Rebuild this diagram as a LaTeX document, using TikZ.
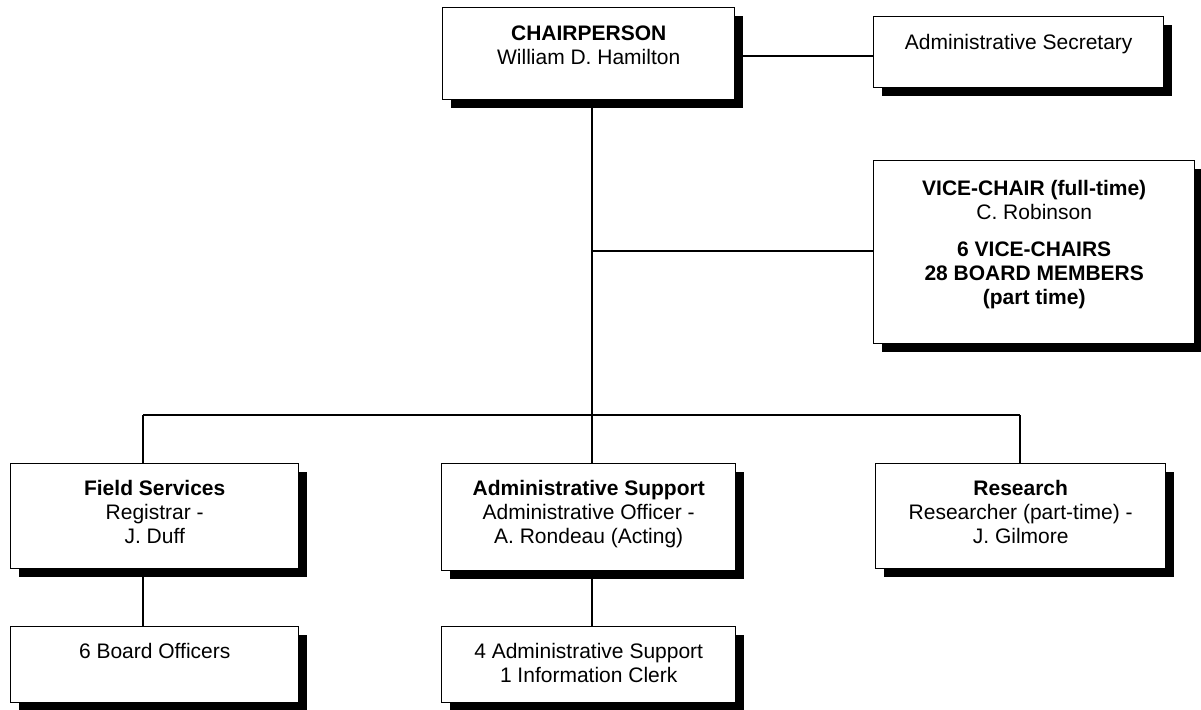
\documentclass[tikz,border=0pt]{standalone}
\usepackage{fontspec}
\setmainfont{Liberation Sans}
\usetikzlibrary{shadows}
\newcommand\orgfont{\fontsize{21}{24.15}\selectfont}
\newcommand\orgtext[4]{\parbox[c][#2][t]{#1}{\orgfont\centering\vspace*{#3}\strut #4}}
\tikzset{
  orgbox/.style={draw=black, line width=1.4pt, fill=white, inner sep=0pt, anchor=north west,
    drop shadow={shadow xshift=8pt, shadow yshift=-8pt, opacity=1, fill=black}},
  link/.style={line width=1.5pt, draw=black},
}
\begin{document}
\begin{tikzpicture}[x=1pt,y=-1pt]
\fill[white] (0,0) rectangle (1201,709);
\useasboundingbox (0,0) rectangle (1201,709);
% coordinates for connectors
\coordinate (trunk) at (592,0);
\coordinate (sy) at (0,56);
\coordinate (vy) at (0,251);
\coordinate (bl) at (143,415);
\coordinate (br) at (1020,415);
% boxes
\node[orgbox] (chair) at (442,7) {\orgtext{292pt}{92pt}{15.4pt}{\textbf{CHAIRPERSON}\\William D. Hamilton}};
\node[orgbox] (adminsec) at (873,16) {\orgtext{290pt}{71pt}{15.4pt}{Administrative Secretary}};
\node[orgbox] (vice) at (873,160) {\orgtext{321pt}{183pt}{18pt}{\textbf{VICE-CHAIR (full-time)}\\C. Robinson\par\vspace{12.6pt}\strut\textbf{6 VICE-CHAIRS}\\\textbf{28 BOARD MEMBERS}\\\textbf{(part time)}}};
\node[orgbox] (field) at (10,463) {\orgtext{288pt}{105pt}{14.6pt}{\textbf{Field Services}\\Registrar -\\J. Duff}};
\node[orgbox] (adminsup) at (441,463) {\orgtext{294pt}{107pt}{14.6pt}{\textbf{Administrative Support}\\Administrative Officer -\\A. Rondeau (Acting)}};
\node[orgbox] (research) at (875,463) {\orgtext{290pt}{105pt}{14.6pt}{\textbf{Research}\\Researcher (part-time) -\\J. Gilmore}};
\node[orgbox] (board) at (10,626) {\orgtext{288pt}{76pt}{14.6pt}{6 Board Officers}};
\node[orgbox] (clerks) at (441,626) {\orgtext{294pt}{76pt}{14.6pt}{4 Administrative Support\\1 Information Clerk}};
% connectors
\draw[link] (chair.east |- sy) -- (adminsec.west |- sy);
\draw[link] (trunk |- chair.south) -- (trunk |- adminsup.north);
\draw[link] (trunk |- vy) -- (vice.west |- vy);
\draw[link] (bl) -- (br);
\draw[link] (bl) -- (bl |- field.north);
\draw[link] (br) -- (br |- research.north);
\draw[link] (bl |- field.south) -- (bl |- board.north);
\draw[link] (trunk |- adminsup.south) -- (trunk |- clerks.north);
\end{tikzpicture}
\end{document}
